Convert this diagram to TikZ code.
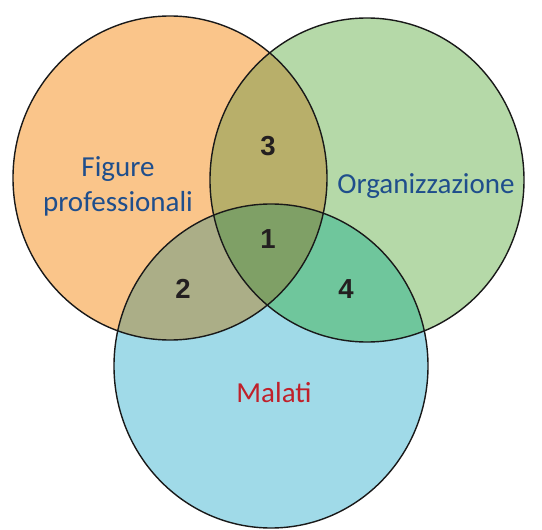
\documentclass[tikz,border=0pt]{standalone}
\usepackage{fontspec}
\setmainfont{Carlito}
\newfontfamily\numfont{Liberation Sans}
\definecolor{cfig}{HTML}{FAC58A}
\definecolor{corg}{HTML}{B5D9A8}
\definecolor{cmal}{HTML}{A0DAE8}
\definecolor{cuno}{HTML}{7FA066}
\definecolor{cdue}{HTML}{ABAE87}
\definecolor{ctre}{HTML}{B8AF6A}
\definecolor{cquattro}{HTML}{6FC69C}
\definecolor{ctesto}{HTML}{1F4E8C}
\definecolor{crosso}{HTML}{C0202A}
\definecolor{cnum}{HTML}{231F20}
\tikzset{
  insieme/.style={x radius=157,y radius=162},
  etichetta/.style={font=\fontsize{29}{35}\selectfont,text=ctesto,align=center},
  numero/.style={font=\numfont\bfseries\fontsize{27.5}{30}\selectfont,text=cnum,anchor=base}
}
\begin{document}
\begin{tikzpicture}[x=1pt,y=-1pt]
\useasboundingbox (0,0) rectangle (542,530);
\coordinate (fig) at (170,178);
\coordinate (org) at (367,180);
\coordinate (mal) at (271,366);
% cerchi
\fill[cfig] (fig) ellipse [insieme];
\fill[corg] (org) ellipse [insieme];
\fill[cmal] (mal) ellipse [insieme];
% intersezioni
\begin{scope}
\clip (fig) ellipse [insieme];
\fill[ctre] (org) ellipse [insieme];
\fill[cdue] (mal) ellipse [insieme];
\end{scope}
\begin{scope}
\clip (org) ellipse [insieme];
\fill[cquattro] (mal) ellipse [insieme];
\end{scope}
\begin{scope}
\clip (fig) ellipse [insieme];
\clip (org) ellipse [insieme];
\fill[cuno] (mal) ellipse [insieme];
\end{scope}
\foreach \c in {fig,org,mal} \draw[line width=1.4pt,black!90] (\c) ellipse [insieme];
% testi
\node[etichetta] (figure) at (118,186) {Figure\\professionali};
\node[etichetta,anchor=base] (organizzazione) at (426,193) {Organizzazione};
\node[etichetta,anchor=base,text=crosso] (malati) at (274,402) {Malati};
\node[numero] (uno) at (268,248) {1};
\node[numero] (due) at (183,298) {2};
\node[numero] (tre) at (268,155) {3};
\node[numero] (quattro) at (346,298) {4};
\end{tikzpicture}
\end{document}
